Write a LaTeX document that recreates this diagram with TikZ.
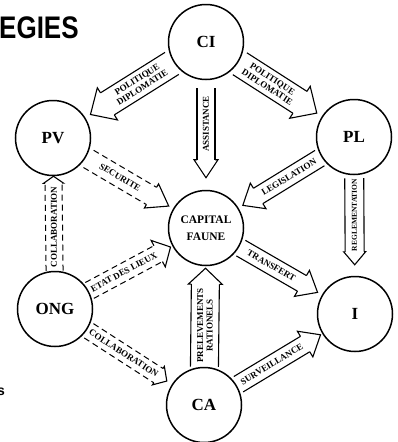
\documentclass[tikz,border=0pt]{standalone}
\usepackage{fontspec}
\setmainfont{Liberation Serif}
\newfontfamily\titlefont{Liberation Sans}
\usetikzlibrary{calc}
\def\blockarrow[#1](#2)(#3)#4#5{%
  \begin{scope}[#1]
    \path (#2) -- (#3) coordinate[pos=0] (ba-a) coordinate[pos=1] (ba-b);
    \coordinate (ba-s) at ($(ba-a)!\bagapa!(ba-b)$);
    \coordinate (ba-t) at ($(ba-b)!\bagapb!(ba-a)$);
    \coordinate (ba-n) at ($(ba-t)!\balen!(ba-s)$);
    \draw[body] ($(ba-s)!\bahalf!90:(ba-t)$) -- ($(ba-n)!\bahalf!90:(ba-t)$);
    \draw[body] ($(ba-s)!\bahalf!-90:(ba-t)$) -- ($(ba-n)!\bahalf!-90:(ba-t)$);
    \draw[headline] ($(ba-n)!\bahalf!90:(ba-t)$) -- ($(ba-n)!\bahead!90:(ba-t)$) -- (ba-t)
      -- ($(ba-n)!\bahead!-90:(ba-t)$) -- ($(ba-n)!\bahalf!-90:(ba-t)$);
    \path (ba-s) -- (ba-n) node[midway, sloped, flowtext, #4] {#5};
  \end{scope}}
\tikzset{
  ba half/.store in=\bahalf, ba half=9pt,
  ba head/.store in=\bahead, ba head=15pt,
  ba len/.store in=\balen, ba len=18pt,
  ba gap a/.store in=\bagapa, ba gap a=2pt,
  ba gap b/.store in=\bagapb, ba gap b=4pt,
  body/.style={line width=1.1pt},
  headline/.style={line width=1.1pt, line join=miter},
  dashbody/.style={body/.style={line width=1pt, dash pattern=on 6pt off 4pt}},
  actor/.style={circle, draw, line width=1.5pt, minimum size=75pt, inner sep=0pt,
    font=\bfseries\fontsize{17}{17}\selectfont},
  flowtext/.style={font=\bfseries\fontsize{9}{9.5}\selectfont, inner sep=0.5pt, align=center},
}
\begin{document}
\begin{tikzpicture}[x=1pt, y=-1pt]
  %%%%% START %%%%%
  \useasboundingbox (0, 0) rectangle (397, 442);
  \fill[white] (0, 0) rectangle (397, 442);

  \node[anchor=base west, inner sep=0pt, font=\titlefont\bfseries\fontsize{26}{26}\selectfont] (title) at (-1, 38) {\scalebox{1}[1.2]{EGIES}};
  \node[anchor=base west, inner sep=0pt, font=\titlefont\bfseries\fontsize{14}{14}\selectfont] (frag) at (-3, 395) {s};

  \node[actor] (CI) at (206, 42) {CI};
  \node[actor] (PV) at (53, 138) {PV};
  \node[actor] (PL) at (354, 137) {PL};
  \node[actor, align=center, font=\bfseries\fontsize{11.5}{17}\selectfont] (CF) at (206, 228) {CAPITAL\\FAUNE};
  \node[actor] (ONG) at (55, 309) {ONG};
  \node[actor] (I) at (355, 314) {I};
  \node[actor] (CA) at (204, 405) {CA};

  \blockarrow[ba half=13pt, ba head=19pt, ba len=20pt, ba gap b=6pt](CI)(PV){}{POLITIQUE\\DIPLOMATIE}
  \blockarrow[ba half=13pt, ba head=19pt, ba len=20pt, ba gap b=6pt](CI)(PL){}{POLITIQUE\\DIPLOMATIE}
  \blockarrow[ba head=12pt, ba len=18pt, ba gap a=8pt, ba gap b=12pt](CI)(CF){sloped=false, rotate=90}{ASSISTANCE}

  \blockarrow[ba gap b=5pt](PL)(CF){}{LEGISLATION}
  \blockarrow[ba half=9.5pt, ba head=11pt, ba len=13pt, ba gap a=3pt, ba gap b=11pt](PL)(I){sloped=false, rotate=90, font=\bfseries\fontsize{7.5}{8}\selectfont}{REGLEMENTATION}

  \blockarrow[dashbody, ba half=10pt, ba head=14pt, ba len=20pt, ba gap a=3pt, ba gap b=5pt](PV)(CF){}{SECURITE}
  \blockarrow[dashbody, ba len=14pt, ba gap a=1pt, ba gap b=2pt](ONG)(CF){}{ETAT DES LIEUX}
  \blockarrow[dashbody, ba half=8.5pt, ba head=10pt, ba len=7pt, ba gap a=0pt, ba gap b=0pt](ONG)(PV){sloped=false, rotate=90}{COLLABORATION}
  \blockarrow[dashbody, ba half=8.5pt, ba head=11pt, ba len=10pt, ba gap b=6pt](ONG)(CA){}{COLLABORATION}

  \blockarrow[ba gap b=5pt](CF)(I){}{TRANSFERT}
  \blockarrow[ba gap b=2pt](CA)(I){}{SURVEILLANCE}
  \blockarrow[ba half=14pt, ba head=17pt, ba len=16pt, ba gap a=0pt, ba gap b=2pt](CA)(CF){sloped=false, rotate=90}{PRELEVEMENTS\\RATIONELS}
  %%%%% END %%%%%
\end{tikzpicture}
\end{document}
